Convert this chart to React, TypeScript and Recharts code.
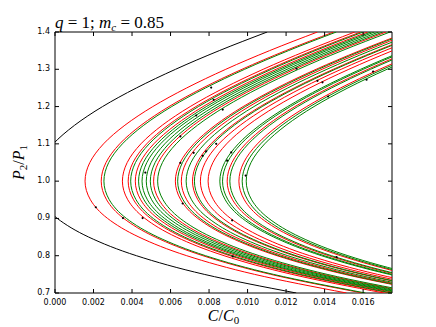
import React from 'react';
import { ScatterChart, Scatter, XAxis, YAxis, ReferenceArea } from 'recharts';

// P2/P1 sample rows shared by every curve
const P_SAMPLES = [0.70, 0.75, 0.80, 0.85, 0.90, 0.95, 1.00, 1.05, 1.10, 1.15, 1.20, 1.25, 1.30, 1.35, 1.40];
// C/C0 distance from a curve's nose at each sample row
const NOSE_OFFSET = [0.01358, 0.00880, 0.00528, 0.00280, 0.00117, 0.00028, 0, 0.00025, 0.00096, 0.00207, 0.00352, 0.00528, 0.00731, 0.00958, 0.01207];

// C/C0 of each curve's nose at P2/P1 = 1
const BLACK_NOSES = [-0.00105];
const RED_NOSES = [0.00156, 0.00240, 0.00350, 0.00380, 0.00417, 0.00512, 0.00625, 0.00656, 0.00714, 0.00755, 0.00795, 0.00894, 0.00955];
const GREEN_NOSES = [0.00254, 0.00393, 0.00434, 0.00452, 0.00474, 0.00495, 0.00533, 0.00637, 0.00681, 0.00724, 0.00856, 0.00870, 0.00908, 0.00972, 0.00993];

// small black markers
const DOT_C = [0.00212, 0.00353, 0.00455, 0.00469, 0.00651, 0.00651, 0.00663, 0.00720, 0.00767, 0.00785, 0.00837, 0.00871, 0.00824, 0.00811, 0.00894, 0.00915, 0.00920, 0.00990, 0.00923, 0.00733, 0.01254, 0.01363, 0.01389, 0.01418, 0.01462, 0.01618, 0.01652];
const DOT_P = [0.930, 0.901, 0.901, 1.023, 1.120, 1.049, 0.940, 1.076, 1.068, 1.080, 1.100, 1.192, 1.218, 1.251, 1.055, 1.077, 0.895, 1.015, 0.798, 1.176, 1.302, 1.269, 1.265, 1.227, 0.796, 1.272, 1.294];

const X_TICKS = [0, 0.002, 0.004, 0.006, 0.008, 0.010, 0.012, 0.014, 0.016];
const Y_TICKS = [0.7, 0.8, 0.9, 1.0, 1.1, 1.2, 1.3, 1.4];
const X_MAX = 0.0175;

const W = 436;
const H = 327;
const PLOT_LEFT = 55;
const PLOT_RIGHT = 392;
const PLOT_TOP = 32;
const PLOT_BOTTOM = 293;
const TICK_LEN = 4;
const TICK_FONT = '"DejaVu Sans", sans-serif';
const MATH_FONT = '"Liberation Serif", serif';

const curvePoints = (nose: number) =>
  P_SAMPLES.map((p, i) => ({ c: nose + NOSE_OFFSET[i], p }));

const dots = DOT_C.map((c, i) => ({ c, p: DOT_P[i] }));

const NoMark = () => <g />;
const Dot = (props: any) => <circle cx={props.cx} cy={props.cy} r={1.1} fill="#000" />;

const XTick = ({ x, payload }: any) => (
  <g>
    <line x1={x} x2={x} y1={PLOT_BOTTOM} y2={PLOT_BOTTOM - TICK_LEN} stroke="#000" />
    <line x1={x} x2={x} y1={PLOT_TOP} y2={PLOT_TOP + TICK_LEN} stroke="#000" />
    <text x={x} y={PLOT_BOTTOM + 12} textAnchor="middle" fontSize={8} fontFamily={TICK_FONT} fill="#000">
      {payload.value.toFixed(3)}
    </text>
  </g>
);

const YTick = ({ y, payload }: any) => (
  <g>
    <line x1={PLOT_LEFT} x2={PLOT_LEFT + TICK_LEN} y1={y} y2={y} stroke="#000" />
    <line x1={PLOT_RIGHT} x2={PLOT_RIGHT - TICK_LEN} y1={y} y2={y} stroke="#000" />
    <text x={PLOT_LEFT - 5} y={y + 2} textAnchor="end" fontSize={8} fontFamily={TICK_FONT} fill="#000">
      {payload.value.toFixed(1)}
    </text>
  </g>
);

const series = (noses: number[], color: string, key: string) =>
  noses.map((n, i) => (
    <Scatter
      key={`${key}-${i}`}
      data={curvePoints(n)}
      fill={color}
      line={{ stroke: color, strokeWidth: 1 }}
      lineJointType="monotoneY"
      shape={NoMark}
      isAnimationActive={false}
    />
  ));

export default function App() {
  return (
    <div style={{ position: 'absolute', left: 0, top: 0, width: W, height: H, background: '#fff' }}>
      <ScatterChart width={W} height={H} margin={{ top: PLOT_TOP, right: W - PLOT_RIGHT, bottom: 10, left: 10 }}>
        <XAxis
          type="number"
          dataKey="c"
          domain={[0, X_MAX]}
          ticks={X_TICKS}
          allowDataOverflow
          height={H - 10 - PLOT_BOTTOM}
          tickLine={false}
          axisLine={false}
          tickSize={0}
          tick={<XTick />}
          interval={0}
        />
        <YAxis
          type="number"
          dataKey="p"
          domain={[0.7, 1.4]}
          ticks={Y_TICKS}
          allowDataOverflow
          width={PLOT_LEFT - 10}
          tickLine={false}
          axisLine={false}
          tickSize={0}
          tick={<YTick />}
          interval={0}
        />
        {series(BLACK_NOSES, '#000000', 'black')}
        {series(RED_NOSES, '#ff0000', 'red')}
        {series(GREEN_NOSES, '#008000', 'green')}
        <Scatter data={dots} fill="#000" shape={Dot} isAnimationActive={false} />
        <ReferenceArea x1={0} x2={X_MAX} y1={0.7} y2={1.4} fill="none" stroke="#000" strokeWidth={1} />
      </ScatterChart>
      <svg width={W} height={H} style={{ position: 'absolute', left: 0, top: 0, pointerEvents: 'none' }}>
        <text x={PLOT_LEFT} y={28} fontSize={17} fontFamily={MATH_FONT} fill="#000">
          <tspan fontStyle="italic">q</tspan>
          <tspan> = 1; </tspan>
          <tspan fontStyle="italic">m</tspan>
          <tspan fontStyle="italic" fontSize={11} dy={3}>c</tspan>
          <tspan dy={-3}> = 0.85</tspan>
        </text>
        <text x={(PLOT_LEFT + PLOT_RIGHT) / 2} y={321} textAnchor="middle" fontSize={16} fontFamily={MATH_FONT} fill="#000">
          <tspan fontStyle="italic">C</tspan>
          <tspan>/</tspan>
          <tspan fontStyle="italic">C</tspan>
          <tspan fontSize={11} dy={3}>0</tspan>
        </text>
        <text
          transform={`translate(24, ${(PLOT_TOP + PLOT_BOTTOM) / 2}) rotate(-90)`}
          textAnchor="middle"
          fontSize={16}
          fontFamily={MATH_FONT}
          fill="#000"
        >
          <tspan fontStyle="italic">P</tspan>
          <tspan fontSize={11} dy={3}>2</tspan>
          <tspan dy={-3}>/</tspan>
          <tspan fontStyle="italic">P</tspan>
          <tspan fontSize={11} dy={3}>1</tspan>
        </text>
      </svg>
    </div>
  );
}
